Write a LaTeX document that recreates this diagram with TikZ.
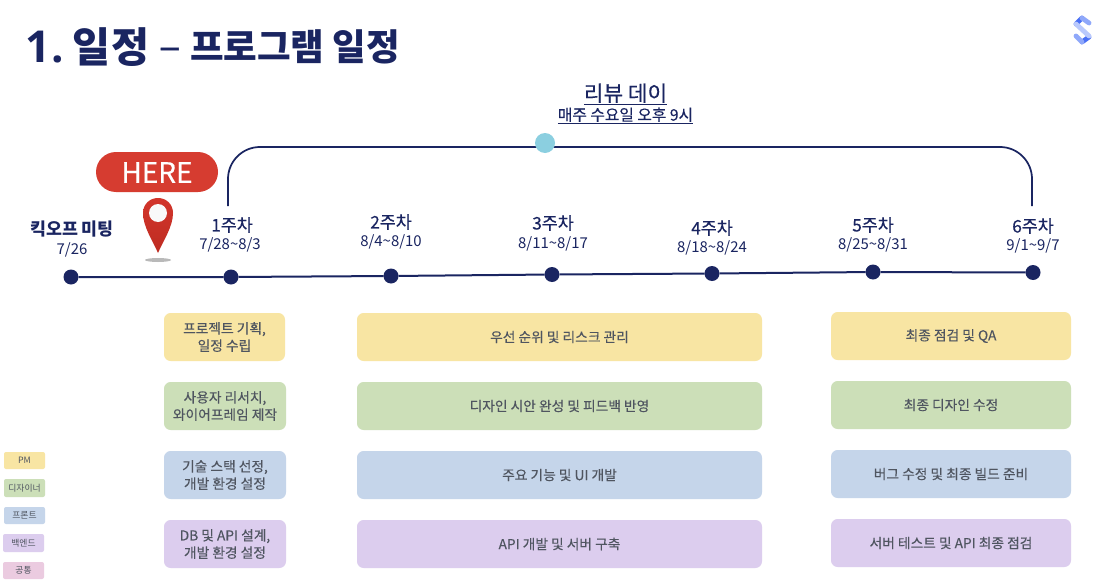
\documentclass[tikz,border=0pt]{standalone}
\usepackage{fontspec}
\newfontfamily\kr{Noto Sans CJK KR}
\newfontfamily\krm[FakeBold=0.25]{Noto Sans CJK KR}
\newfontfamily\krh[FakeBold=1.2]{Noto Sans CJK KR}
\newfontfamily\la{Open Sans}
\newcommand{\krb}{\kr\bfseries}
\usetikzlibrary{calc}
\definecolor{navy}{HTML}{1A2561}
\definecolor{cy}{HTML}{F8E5A3}
\definecolor{cg}{HTML}{CCDFB8}
\definecolor{cb}{HTML}{C5D5EA}
\definecolor{cp}{HTML}{DCCDEE}
\definecolor{cr}{HTML}{EBCBE0}
\definecolor{txt}{HTML}{4F5560}
\definecolor{hereRed}{HTML}{D63C30}
\definecolor{pinTop}{HTML}{D2352B}
\definecolor{pinBot}{HTML}{BE2C22}
\definecolor{rvc}{HTML}{8BCFE0}
\definecolor{la}{HTML}{4A70F5}
\definecolor{lb}{HTML}{8FA8FA}
\definecolor{lc}{HTML}{B9C9FC}
\tikzset{
 x=0.75pt,y=-0.75pt,
 every node/.style={font=\kr,inner sep=0pt,outer sep=0pt},
 dot/.style={circle,fill=navy,minimum size=11.25pt},
 task/.style={text=txt,font=\krm\fontsize{10.3pt}{13pt}\selectfont,align=center},
 leg/.style={text=txt,font=\kr\fontsize{6.6pt}{8pt}\selectfont,align=center},
 wk/.style={text=navy,font=\krm\fontsize{13pt}{15pt}\selectfont},
 dt/.style={text=navy,font=\kr\fontsize{11.2pt}{13pt}\selectfont},
 link/.style={draw=navy,line width=1.3pt},
}
\newcommand{\tbox}[7]{\path[fill=#5,rounded corners=5pt] (#1,#2) rectangle (#3,#4); \node[task] (#6) at ({(#1+#3)/2},{(#2+#4)/2}) {#7};}
\newcommand{\lbox}[7]{\path[fill=#5,rounded corners=1.5pt] (#1,#2) rectangle (#3,#4); \node[leg] (#6) at ({(#1+#3)/2},{(#2+#4)/2}) {#7};}
\begin{document}
\begin{tikzpicture}
\useasboundingbox (0,0) rectangle (1116,585);
\fill[white] (0,0) rectangle (1116,585);
% title
\node[anchor=west,text=navy] (t1) at (26,47) {{\la\bfseries\fontsize{33pt}{36pt}\selectfont 1.}\hspace{7pt}{\krb\fontsize{31pt}{34pt}\selectfont 일정}};
\node[anchor=west,text=navy] (t1b) at (159,54) {\krh\fontsize{30pt}{34pt}\selectfont –};
\node[anchor=west,text=navy] (t2) at (190,47) {\krb\fontsize{27.4pt}{30pt}\selectfont 프로그램 일정};
% logo
\begin{scope}[line cap=round,line width=3.6pt]
\draw[color=la] (1076,24) -- (1082,18);
\draw[color=lb] (1082,18) -- (1089,23);
\draw[color=la] (1082,42) -- (1089,37);
\draw[color=lb] (1076,36) -- (1082,42);
\draw[color=lc] (1076,24) -- (1089,36);
\end{scope}
% review
\node[text=navy] (r1) at (625.5,94.5) {\underline{\krm\fontsize{16pt}{18pt}\selectfont 리뷰 데이}};
\node[text=navy] (r2) at (625.5,116) {\underline{\krm\fontsize{11.8pt}{13pt}\selectfont 매주 수요일 오후 9시}};
\coordinate (bl) at (228,206);
\coordinate (br) at (1032,206);
\draw[link,rounded corners=24pt] (bl) -- (228,147) -- (1032,147) -- (br);
\node[circle,fill=rvc,minimum size=15pt] (rv) at (545,143) {};
% timeline
\node[dot] (d0) at (71,277) {};
\node[dot] (d1) at (231,277) {};
\node[dot] (d2) at (391,276) {};
\node[dot] (d3) at (552,274.5) {};
\node[dot] (d4) at (712,273.5) {};
\node[dot] (d5) at (873,272) {};
\node[dot] (d6) at (1033,272.5) {};
\draw[link,line width=1.5pt] (d0) -- (d1) -- (d2) -- (d3) -- (d4) -- (d5) -- (d6);
% labels
\node[wk] (k0) at (72,229.5) {\krb\fontsize{13pt}{15pt}\selectfont 킥오프 미팅};
\node[dt] (k0d) at (72,249.5) {7/26};
\node[wk] (k1) at (232,225) {1주차}; \node[dt] (k1d) at (230,244.5) {7/28\textasciitilde 8/3};
\node[wk] (k2) at (391,222) {2주차}; \node[dt] (k2d) at (391,241.5) {8/4\textasciitilde 8/10};
\node[wk] (k3) at (553,223) {3주차}; \node[dt] (k3d) at (553,243.5) {8/11\textasciitilde 8/17};
\node[wk] (k4) at (712,228) {4주차}; \node[dt] (k4d) at (712,247.5) {8/18\textasciitilde 8/24};
\node[wk] (k5) at (873,225) {5주차}; \node[dt] (k5d) at (873,244.5) {8/25\textasciitilde 8/31};
\node[wk] (k6) at (1033,226) {6주차}; \node[dt] (k6d) at (1033,245.5) {9/1\textasciitilde 9/7};
% here
\path[fill=hereRed,rounded corners=15pt] (96,152) rectangle (218,192);
\node[text=white,font=\krm\fontsize{21pt}{24pt}\selectfont] (here) at (157,172.5) {HERE};
\fill[gray!55] (158,260) ellipse (13 and 2);
\shade[top color=pinTop,bottom color=pinBot] (158,253) .. controls (153,241) and (143,227) .. (143,213) .. controls (143,204) and (150,198) .. (158,198) .. controls (166,198) and (173,204) .. (173,213) .. controls (173,227) and (163,241) .. (158,253) -- cycle;
\fill[white!95!gray] (158,213) circle (9);
% tasks
\tbox{164}{313}{285}{361}{cy}{a1}{프로젝트 기획,\\일정 수립}
\tbox{164}{382}{286}{430}{cg}{a2}{사용자 리서치,\\와이어프레임 제작}
\tbox{164}{451}{286}{499}{cb}{a3}{기술 스택 선정,\\개발 환경 설정}
\tbox{164}{520}{286}{568}{cp}{a4}{DB 및 API 설계,\\개발 환경 설정}
\tbox{357}{313}{762}{361}{cy}{b1}{우선 순위 및 리스크 관리}
\tbox{357}{382}{762}{430}{cg}{b2}{디자인 시안 완성 및 피드백 반영}
\tbox{357}{451}{762}{499}{cb}{b3}{주요 기능 및 UI 개발}
\tbox{357}{520}{762}{568}{cp}{b4}{API 개발 및 서버 구축}
\tbox{831}{312}{1071}{360}{cy}{c1}{최종 점검 및 QA}
\tbox{831}{381}{1071}{429}{cg}{c2}{최종 디자인 수정}
\tbox{831}{450}{1071}{498}{cb}{c3}{버그 수정 및 최종 빌드 준비}
\tbox{831}{519}{1071}{567}{cp}{c4}{서버 테스트 및 API 최종 점검}
% legend
\lbox{4}{452}{45}{469}{cy}{l1}{PM}
\lbox{4}{479}{45}{497}{cg}{l2}{디자이너}
\lbox{4}{507}{45}{524}{cb}{l3}{프론트}
\lbox{3}{534}{44}{552}{cp}{l4}{백엔드}
\lbox{3}{562}{44}{579}{cr}{l5}{공통}
\end{tikzpicture}
\end{document}
